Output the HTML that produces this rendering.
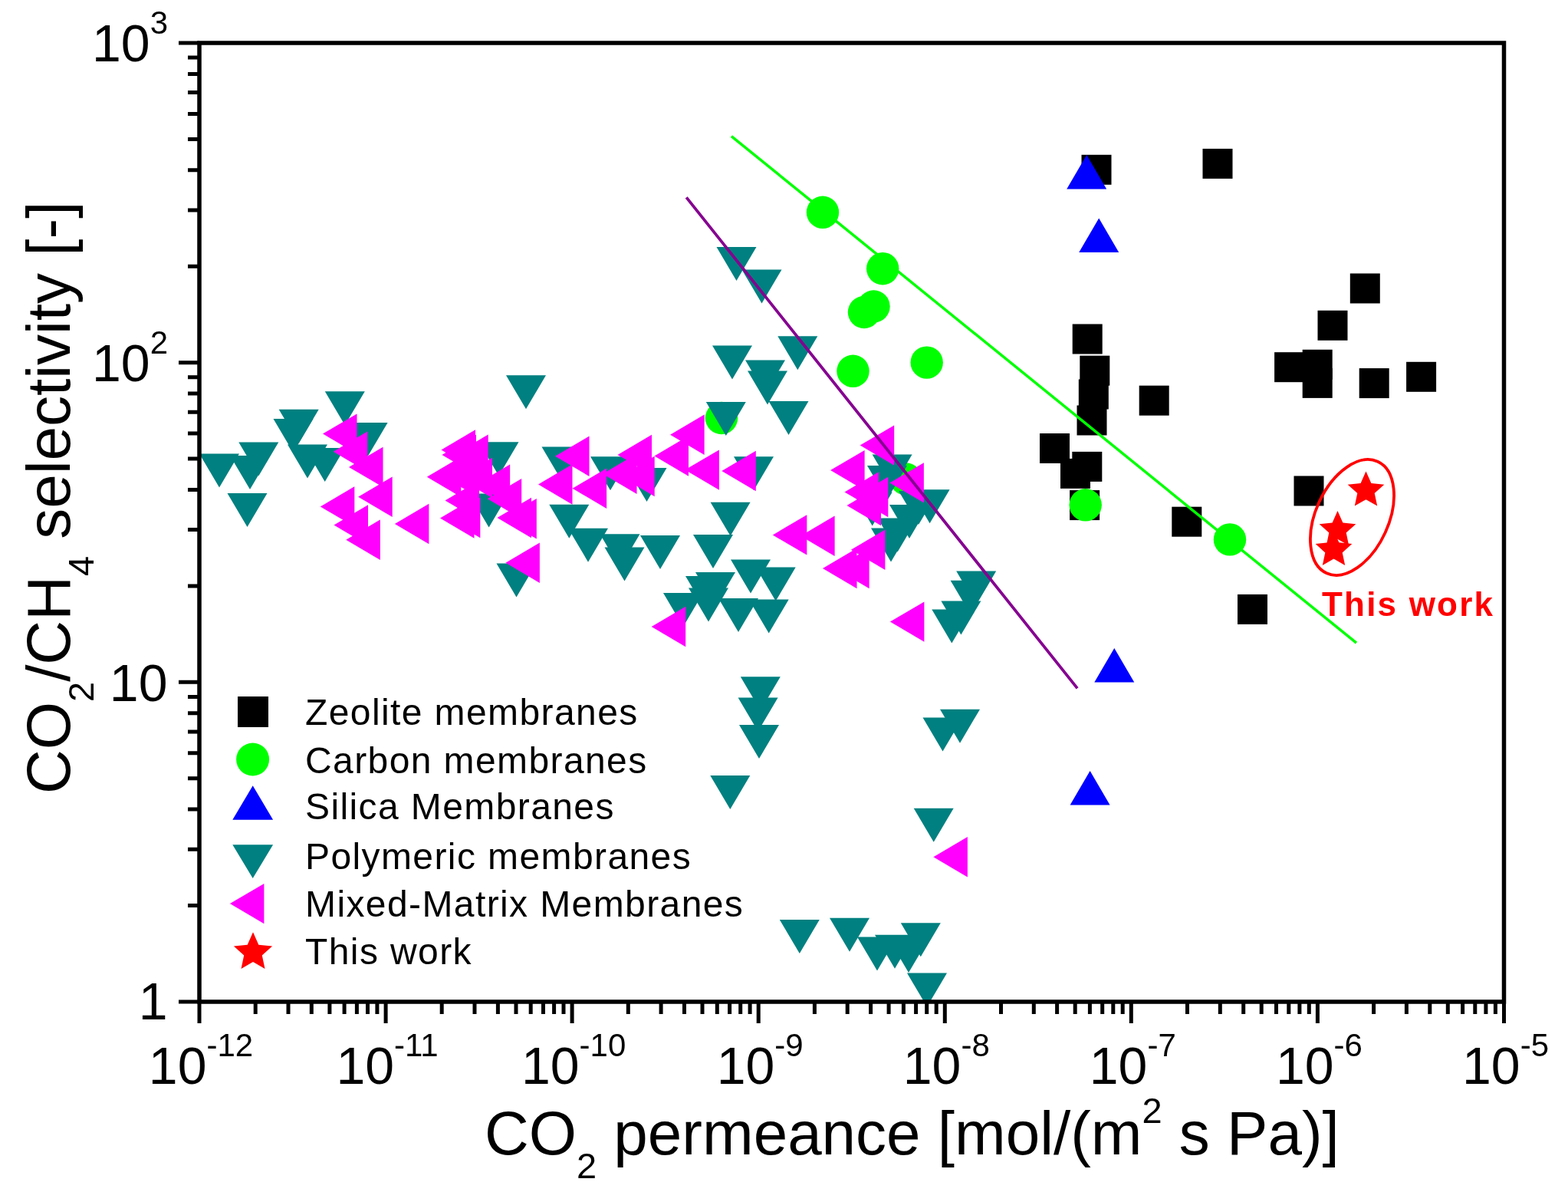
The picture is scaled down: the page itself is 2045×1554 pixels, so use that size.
<!DOCTYPE html><html><head><meta charset="utf-8"><style>html,body{margin:0;padding:0;background:#fff;overflow:hidden}svg{display:block}</style></head><body><svg width="2045" height="1554" viewBox="0 0 2045 1554">
<rect width="2045" height="1554" fill="#fff"/>
<g fill="#000"><rect x="1410.5" y="201.8" width="39" height="39"/><rect x="1568.5" y="193.9" width="39" height="39"/><rect x="1398.7" y="422.5" width="39" height="39"/><rect x="1408.3" y="463.7" width="39" height="39"/><rect x="1406.8" y="494.5" width="39" height="39"/><rect x="1404.5" y="528.5" width="39" height="39"/><rect x="1485.7" y="502.7" width="39" height="39"/><rect x="1356.0" y="565.0" width="39" height="39"/><rect x="1383.0" y="597.9" width="39" height="39"/><rect x="1398.3" y="588.9" width="39" height="39"/><rect x="1395.1" y="639.1" width="39" height="39"/><rect x="1528.3" y="660.7" width="39" height="39"/><rect x="1614.0" y="774.9" width="39" height="39"/><rect x="1687.5" y="620.5" width="39" height="39"/><rect x="1760.8" y="356.5" width="39" height="39"/><rect x="1718.5" y="404.8" width="39" height="39"/><rect x="1662.1" y="459.2" width="39" height="39"/><rect x="1698.7" y="455.8" width="39" height="39"/><rect x="1698.7" y="479.9" width="39" height="39"/><rect x="1772.7" y="480.1" width="39" height="39"/><rect x="1834.1" y="471.8" width="39" height="39"/></g>
<g fill="#00ff00"><circle cx="1073.0" cy="276.8" r="21.2"/><circle cx="1151.2" cy="350.2" r="21.2"/><circle cx="1127.0" cy="407.0" r="21.2"/><circle cx="1139.5" cy="399.5" r="21.2"/><circle cx="1112.5" cy="483.8" r="21.2"/><circle cx="1208.7" cy="472.6" r="21.2"/><circle cx="941.0" cy="545.0" r="21.2"/><circle cx="1181.5" cy="624.5" r="21.2"/><circle cx="1415.7" cy="658.3" r="21.2"/><circle cx="1604.0" cy="703.4" r="21.2"/></g>
<g fill="#0000ff"><path d="M1391.2 246.4H1443.2L1417.2 201.9Z"/><path d="M1407.2 329.1H1459.2L1433.2 284.6Z"/><path d="M1427.3 889.5H1479.3L1453.3 845.0Z"/><path d="M1395.6 1049.5H1447.6L1421.6 1005.0Z"/></g>
<g fill="#008080"><path d="M260.0 591.4H312.0L286.0 635.4Z"/><path d="M311.3 576.4H363.3L337.3 620.4Z"/><path d="M300.0 594.0H352.0L326.0 638.0Z"/><path d="M296.5 643.0H348.5L322.5 687.0Z"/><path d="M363.7 533.8H415.7L389.7 577.8Z"/><path d="M356.5 546.0H408.5L382.5 590.0Z"/><path d="M375.0 579.5H427.0L401.0 623.5Z"/><path d="M397.7 584.0H449.7L423.7 628.0Z"/><path d="M423.8 510.3H475.8L449.8 554.3Z"/><path d="M453.6 551.0H505.6L479.6 595.0Z"/><path d="M660.0 489.3H712.0L686.0 533.3Z"/><path d="M624.5 576.2H676.5L650.5 620.2Z"/><path d="M611.6 643.6H663.6L637.6 687.6Z"/><path d="M647.5 734.5H699.5L673.5 778.5Z"/><path d="M706.5 582.6H758.5L732.5 626.6Z"/><path d="M716.3 657.8H768.3L742.3 701.8Z"/><path d="M929.0 450.5H981.0L955.0 494.5Z"/><path d="M972.0 469.4H1024.0L998.0 513.4Z"/><path d="M920.8 524.0H972.8L946.8 568.0Z"/><path d="M770.0 595.3H822.0L796.0 639.3Z"/><path d="M817.5 610.0H869.5L843.5 654.0Z"/><path d="M957.0 595.3H1009.0L983.0 639.3Z"/><path d="M926.6 654.7H978.6L952.6 698.7Z"/><path d="M1014.3 438.3H1066.3L1040.3 482.3Z"/><path d="M975.0 483.5H1027.0L1001.0 527.5Z"/><path d="M1002.5 523.0H1054.5L1028.5 567.0Z"/><path d="M1137.6 592.6H1189.6L1163.6 636.6Z"/><path d="M1131.0 607.0H1183.0L1157.0 651.0Z"/><path d="M1186.6 638.3H1238.6L1212.6 682.3Z"/><path d="M934.5 322.0H986.5L960.5 366.0Z"/><path d="M967.5 351.5H1019.5L993.5 395.5Z"/><path d="M741.0 688.7H793.0L767.0 732.7Z"/><path d="M782.5 696.3H834.5L808.5 740.3Z"/><path d="M788.5 713.5H840.5L814.5 757.5Z"/><path d="M835.0 698.0H887.0L861.0 742.0Z"/><path d="M904.0 697.0H956.0L930.0 741.0Z"/><path d="M953.0 729.6H1005.0L979.0 773.6Z"/><path d="M985.7 739.6H1037.7L1011.7 783.6Z"/><path d="M907.0 746.0H959.0L933.0 790.0Z"/><path d="M894.0 751.0H946.0L920.0 795.0Z"/><path d="M865.0 773.0H917.0L891.0 817.0Z"/><path d="M898.0 766.5H950.0L924.0 810.5Z"/><path d="M937.0 780.0H989.0L963.0 824.0Z"/><path d="M976.7 781.4H1028.7L1002.7 825.4Z"/><path d="M1172.0 640.0H1224.0L1198.0 684.0Z"/><path d="M1160.0 658.0H1212.0L1186.0 702.0Z"/><path d="M1136.0 688.5H1188.0L1162.0 732.5Z"/><path d="M1111.7 641.6H1163.7L1137.7 685.6Z"/><path d="M1144.6 675.6H1196.6L1170.6 719.6Z"/><path d="M1247.2 744.6H1299.2L1273.2 788.6Z"/><path d="M1239.6 756.7H1291.6L1265.6 800.7Z"/><path d="M1227.4 783.4H1279.4L1253.4 827.4Z"/><path d="M1215.3 794.4H1267.3L1241.3 838.4Z"/><path d="M965.8 882.3H1017.8L991.8 926.3Z"/><path d="M962.6 909.4H1014.6L988.6 953.4Z"/><path d="M964.0 945.0H1016.0L990.0 989.0Z"/><path d="M926.3 1011.0H978.3L952.3 1055.0Z"/><path d="M1226.0 924.7H1278.0L1252.0 968.7Z"/><path d="M1203.5 935.6H1255.5L1229.5 979.6Z"/><path d="M1191.7 1053.8H1243.7L1217.7 1097.8Z"/><path d="M1016.8 1198.9H1068.8L1042.8 1242.9Z"/><path d="M1082.0 1196.8H1134.0L1108.0 1240.8Z"/><path d="M1118.0 1221.6H1170.0L1144.0 1265.6Z"/><path d="M1141.0 1218.7H1193.0L1167.0 1262.7Z"/><path d="M1174.8 1203.3H1226.8L1200.8 1247.3Z"/><path d="M1159.0 1224.0H1211.0L1185.0 1268.0Z"/><path d="M1183.0 1268.6H1235.0L1209.0 1312.6Z"/></g>
<g fill="#ff00ff"><path d="M465.5 539.4V591.8L421.0 565.6Z"/><path d="M479.2 562.6V615.0L434.7 588.8Z"/><path d="M499.5 582.7V635.1L455.0 608.9Z"/><path d="M511.7 621.5V673.9L467.2 647.7Z"/><path d="M462.3 634.2V686.6L417.8 660.4Z"/><path d="M480.0 658.3V710.7L435.5 684.5Z"/><path d="M495.8 677.5V729.9L451.3 703.7Z"/><path d="M559.4 656.8V709.2L514.9 683.0Z"/><path d="M620.0 560.3V612.7L575.5 586.5Z"/><path d="M621.0 566.8V619.2L576.5 593.0Z"/><path d="M636.7 566.6V619.0L592.2 592.8Z"/><path d="M642.0 596.8V649.2L597.5 623.0Z"/><path d="M665.1 605.5V657.9L620.6 631.7Z"/><path d="M680.2 624.0V676.4L635.7 650.2Z"/><path d="M699.8 650.0V702.4L655.3 676.2Z"/><path d="M693.0 648.8V701.2L648.5 675.0Z"/><path d="M626.3 648.8V701.2L581.8 675.0Z"/><path d="M618.5 649.3V701.7L574.0 675.5Z"/><path d="M625.0 626.2V678.6L580.5 652.4Z"/><path d="M622.0 594.8V647.2L577.5 621.0Z"/><path d="M601.3 595.5V647.9L556.8 621.7Z"/><path d="M703.9 707.5V759.9L659.4 733.7Z"/><path d="M746.5 605.3V657.7L702.0 631.5Z"/><path d="M768.5 568.6V621.0L724.0 594.8Z"/><path d="M791.1 610.6V663.0L746.6 636.8Z"/><path d="M850.0 566.7V619.1L805.5 592.9Z"/><path d="M830.5 591.5V643.9L786.0 617.7Z"/><path d="M853.7 594.8V647.2L809.2 621.0Z"/><path d="M918.6 540.6V593.0L874.1 566.8Z"/><path d="M898.0 568.3V620.7L853.5 594.5Z"/><path d="M937.9 586.4V638.8L893.4 612.6Z"/><path d="M985.8 587.8V640.2L941.3 614.0Z"/><path d="M1166.2 554.4V606.8L1121.7 580.6Z"/><path d="M1127.6 586.9V639.3L1083.1 613.1Z"/><path d="M1204.9 603.2V655.6L1160.4 629.4Z"/><path d="M1146.0 615.2V667.6L1101.5 641.4Z"/><path d="M1149.0 632.8V685.2L1104.5 659.0Z"/><path d="M1158.3 621.8V674.2L1113.8 648.0Z"/><path d="M1154.4 690.6V743.0L1109.9 716.8Z"/><path d="M1052.3 671.2V723.6L1007.8 697.4Z"/><path d="M1088.6 672.5V724.9L1044.1 698.7Z"/><path d="M1117.5 714.8V767.2L1073.0 741.0Z"/><path d="M1133.6 714.8V767.2L1089.1 741.0Z"/><path d="M894.2 790.8V843.2L849.7 817.0Z"/><path d="M1205.4 784.4V836.8L1160.9 810.6Z"/><path d="M1261.9 1091.0V1143.4L1217.4 1117.2Z"/></g>
<g fill="#ff0000"><path d="M1781.5 614.4L1788.4 629.9L1805.3 631.7L1792.7 643.0L1796.2 659.6L1781.5 651.2L1766.8 659.6L1770.3 643.0L1757.7 631.7L1774.6 629.9Z"/><path d="M1744.5 666.0L1751.4 681.5L1768.3 683.3L1755.7 694.6L1759.2 711.2L1744.5 702.8L1729.8 711.2L1733.3 694.6L1720.7 683.3L1737.6 681.5Z"/><path d="M1739.5 691.8L1746.4 707.3L1763.3 709.1L1750.7 720.4L1754.2 737.0L1739.5 728.6L1724.8 737.0L1728.3 720.4L1715.7 709.1L1732.6 707.3Z"/></g>
<line x1="953.9" y1="177.6" x2="1769" y2="838.2" stroke="#00ff00" stroke-width="3.5"/>
<line x1="895.2" y1="257.4" x2="1405.1" y2="897.4" stroke="#850090" stroke-width="3.8"/>
<ellipse cx="1763.5" cy="674.5" rx="80" ry="47.5" transform="rotate(-65.4 1763.5 674.5)" fill="none" stroke="#ff0000" stroke-width="3.8"/>
<text x="1724" y="803" font-family="Liberation Sans, Arial, sans-serif" font-weight="bold" font-size="44" letter-spacing="2.2" fill="#ff0000">This work</text>
<rect x="260.0" y="56.0" width="1701.5" height="1250.0" fill="none" stroke="#000" stroke-width="5.5"/>
<path d="M260.0 1306.0V1334.0M333.2 1306.0V1322.0M376.0 1306.0V1322.0M406.3 1306.0V1322.0M429.9 1306.0V1322.0M449.1 1306.0V1322.0M465.4 1306.0V1322.0M479.5 1306.0V1322.0M491.9 1306.0V1322.0M503.1 1306.0V1334.0M576.2 1306.0V1322.0M619.0 1306.0V1322.0M649.4 1306.0V1322.0M673.0 1306.0V1322.0M692.2 1306.0V1322.0M708.5 1306.0V1322.0M722.6 1306.0V1322.0M735.0 1306.0V1322.0M746.1 1306.0V1334.0M819.3 1306.0V1322.0M862.1 1306.0V1322.0M892.5 1306.0V1322.0M916.0 1306.0V1322.0M935.3 1306.0V1322.0M951.6 1306.0V1322.0M965.7 1306.0V1322.0M978.1 1306.0V1322.0M989.2 1306.0V1334.0M1062.4 1306.0V1322.0M1105.2 1306.0V1322.0M1135.6 1306.0V1322.0M1159.1 1306.0V1322.0M1178.4 1306.0V1322.0M1194.6 1306.0V1322.0M1208.7 1306.0V1322.0M1221.2 1306.0V1322.0M1232.3 1306.0V1334.0M1305.5 1306.0V1322.0M1348.3 1306.0V1322.0M1378.6 1306.0V1322.0M1402.2 1306.0V1322.0M1421.4 1306.0V1322.0M1437.7 1306.0V1322.0M1451.8 1306.0V1322.0M1464.2 1306.0V1322.0M1475.3 1306.0V1334.0M1548.5 1306.0V1322.0M1591.3 1306.0V1322.0M1621.7 1306.0V1322.0M1645.2 1306.0V1322.0M1664.5 1306.0V1322.0M1680.8 1306.0V1322.0M1694.9 1306.0V1322.0M1707.3 1306.0V1322.0M1718.4 1306.0V1334.0M1791.6 1306.0V1322.0M1834.4 1306.0V1322.0M1864.8 1306.0V1322.0M1888.3 1306.0V1322.0M1907.6 1306.0V1322.0M1923.8 1306.0V1322.0M1937.9 1306.0V1322.0M1950.4 1306.0V1322.0M1961.5 1306.0V1334.0M260.0 1306.0H233.0M260.0 1180.6H245.0M260.0 1107.2H245.0M260.0 1055.1H245.0M260.0 1014.8H245.0M260.0 981.8H245.0M260.0 953.9H245.0M260.0 929.7H245.0M260.0 908.4H245.0M260.0 889.3H233.0M260.0 763.9H245.0M260.0 690.5H245.0M260.0 638.5H245.0M260.0 598.1H245.0M260.0 565.1H245.0M260.0 537.2H245.0M260.0 513.0H245.0M260.0 491.7H245.0M260.0 472.7H233.0M260.0 347.2H245.0M260.0 273.9H245.0M260.0 221.8H245.0M260.0 181.4H245.0M260.0 148.4H245.0M260.0 120.5H245.0M260.0 96.4H245.0M260.0 75.1H245.0M260.0 56.0H233.0" stroke="#000" stroke-width="5" fill="none"/>
<text x="262.0" y="1413" font-family="Liberation Sans, Arial, sans-serif" font-size="68" text-anchor="middle">10<tspan font-size="42" dy="-36">-12</tspan></text>
<text x="505.1" y="1413" font-family="Liberation Sans, Arial, sans-serif" font-size="68" text-anchor="middle">10<tspan font-size="42" dy="-36">-11</tspan></text>
<text x="748.1" y="1413" font-family="Liberation Sans, Arial, sans-serif" font-size="68" text-anchor="middle">10<tspan font-size="42" dy="-36">-10</tspan></text>
<text x="991.2" y="1413" font-family="Liberation Sans, Arial, sans-serif" font-size="68" text-anchor="middle">10<tspan font-size="42" dy="-36">-9</tspan></text>
<text x="1234.3" y="1413" font-family="Liberation Sans, Arial, sans-serif" font-size="68" text-anchor="middle">10<tspan font-size="42" dy="-36">-8</tspan></text>
<text x="1477.3" y="1413" font-family="Liberation Sans, Arial, sans-serif" font-size="68" text-anchor="middle">10<tspan font-size="42" dy="-36">-7</tspan></text>
<text x="1720.4" y="1413" font-family="Liberation Sans, Arial, sans-serif" font-size="68" text-anchor="middle">10<tspan font-size="42" dy="-36">-6</tspan></text>
<text x="1963.5" y="1413" font-family="Liberation Sans, Arial, sans-serif" font-size="68" text-anchor="middle">10<tspan font-size="42" dy="-36">-5</tspan></text>
<text x="219" y="79.5" font-family="Liberation Sans, Arial, sans-serif" font-size="68" text-anchor="end">10<tspan font-size="42" dy="-36">3</tspan></text>
<text x="219" y="496.5" font-family="Liberation Sans, Arial, sans-serif" font-size="68" text-anchor="end">10<tspan font-size="42" dy="-36">2</tspan></text>
<text x="218.5" y="914" font-family="Liberation Sans, Arial, sans-serif" font-size="68" text-anchor="end">10</text>
<text x="218.5" y="1329" font-family="Liberation Sans, Arial, sans-serif" font-size="68" text-anchor="end">1</text>
<text x="632" y="1505" font-family="Liberation Sans, Arial, sans-serif" font-size="80">CO<tspan font-size="47" dy="31">2</tspan><tspan dy="-31"> permeance [mol/(m</tspan><tspan font-size="47" dy="-41">2</tspan><tspan dy="41"> s Pa)]</tspan></text>
<text transform="translate(91 1035) rotate(-90)" font-family="Liberation Sans, Arial, sans-serif" font-size="80">CO<tspan font-size="47" dy="31">2</tspan><tspan dy="-31">/CH</tspan><tspan font-size="47" dy="31">4</tspan><tspan dy="-31"> selectivity [-]</tspan></text>
<g fill="#000"><rect x="310.0" y="908.0" width="40" height="40"/></g>
<g fill="#00ff00"><circle cx="329.6" cy="990.0" r="21.5"/></g>
<g fill="#0000ff"><path d="M303.3 1068.7H356.1L329.7 1024.2Z"/></g>
<g fill="#008080"><path d="M303.3 1101.2H356.1L329.7 1145.0Z"/></g>
<g fill="#ff00ff"><path d="M344.4 1151.9V1204.3L299.9 1178.1Z"/></g>
<g fill="#ff0000"><path d="M330.0 1215.3L337.3 1231.7L355.1 1233.5L341.8 1245.5L345.5 1263.1L330.0 1254.1L314.5 1263.1L318.2 1245.5L304.9 1233.5L322.7 1231.7Z"/></g>
<text x="398" y="945" font-family="Liberation Sans, Arial, sans-serif" font-size="48" letter-spacing="1.4">Zeolite membranes</text>
<text x="398" y="1008" font-family="Liberation Sans, Arial, sans-serif" font-size="48" letter-spacing="1.4">Carbon membranes</text>
<text x="398" y="1068" font-family="Liberation Sans, Arial, sans-serif" font-size="48" letter-spacing="1.4">Silica Membranes</text>
<text x="398" y="1133" font-family="Liberation Sans, Arial, sans-serif" font-size="48" letter-spacing="1.4">Polymeric membranes</text>
<text x="398" y="1195" font-family="Liberation Sans, Arial, sans-serif" font-size="48" letter-spacing="1.4">Mixed-Matrix Membranes</text>
<text x="398" y="1257" font-family="Liberation Sans, Arial, sans-serif" font-size="48" letter-spacing="1.4">This work</text>
</svg></body></html>
